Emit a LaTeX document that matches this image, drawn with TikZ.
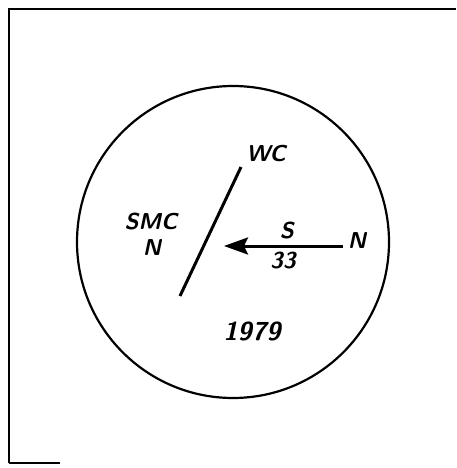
\documentclass[tikz,border=0pt]{standalone}
\usepackage{fontspec}
\usepackage{tikz}
\usetikzlibrary{arrows.meta,positioning}

\begin{document}
\begin{tikzpicture}[x=1pt, y=-1pt, node distance=6pt and 4pt,
      lbl/.style={inner sep=0pt, font=\sffamily\bfseries\itshape\fontsize{23}{24}\selectfont},
      rim/.style={line width=2.2pt},
      arr/.style={-{Stealth[length=24pt,width=17pt,inset=4pt]}, line width=3pt}]
    \useasboundingbox (0,0) rectangle (456,468);
    \draw[line width=2.6pt] (9,463) -- (9,9) -- (456,9);
    \draw[line width=1.2pt] (9,463) -- (60,463);
    \draw[rim] (233,242) circle (156);
    \coordinate (base) at (180,296);
    \coordinate (top) at (241,167);
    \coordinate (tip) at (224,246);
    \coordinate (tail) at (343,246);
    \node[lbl] (wc) at (266,154) {WC};
    \node[lbl] (smc) at (151,222) {SMC};
    \node[lbl] (sn) at (152,248) {N};
    \node[lbl] (n) at (357,241) {N};
    \node[lbl] (s) at (287,231) {S};
    \node[lbl] (ss) at (283,261) {33};
    \node[lbl, font=\sffamily\bfseries\itshape\fontsize{26}{27}\selectfont] (year) at (252,331) {1979};
    \draw[line width=3pt] (base) -- (top);
    \draw[arr] (tail) -- (tip);
\end{tikzpicture}
\end{document}
